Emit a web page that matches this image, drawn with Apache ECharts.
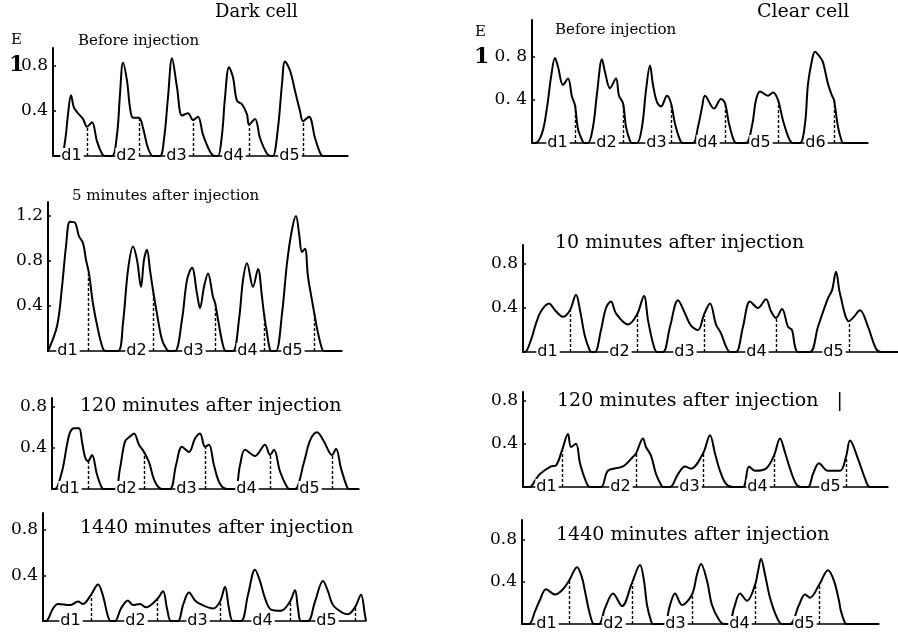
<!DOCTYPE html>
<html><head><meta charset="utf-8">
<script src="https://cdn.jsdelivr.net/npm/echarts@6/dist/echarts.min.js"></script>
<style>html,body{margin:0;padding:0;background:#fff}#c{width:898px;height:638px}</style>
</head><body><div id="c"></div>
<script>
// ---- data: [scan position, extinction E] ----
const darkBefore = [[0,0],[8,0],[12,0.13],[15,0.37],[18,0.54],[21,0.43],[25,0.38],[30,0.33],[34,0.26],[39,0.30],[44,0.13],[49,0.02],[52,0],[59,0],[64,0.19],[67,0.55],[70,0.83],[74,0.67],[77,0.43],[80,0.34],[86,0.34],[90,0.25],[95,0.07],[100,0],[107,0],[111,0.15],[115,0.52],[119,0.87],[124,0.61],[129,0.36],[135,0.38],[140,0.32],[145,0.35],[150,0.19],[157,0.04],[162,0],[165,0],[169,0.19],[172,0.52],[176,0.79],[180,0.70],[184,0.49],[189,0.46],[194,0.37],[196,0.28],[202,0.33],[207,0.16],[214,0.02],[218,0],[220,0],[225,0.25],[229,0.64],[232,0.84],[237,0.76],[242,0.58],[247,0.40],[250,0.31],[256,0.35],[262,0.16],[267,0.03],[270,0],[295,0]];
const darkBeforeCuts = [[34,0.26],[86,0.34],[140,0.32],[196,0.28],[250,0.31]];
const darkBeforeLabelX = [19,74,124,181,237];

const clearBefore = [[0,0],[3,0],[10,0.09],[15,0.33],[19,0.61],[23,0.79],[26,0.71],[31,0.54],[36,0.60],[40,0.43],[43,0.35],[46,0.13],[51,0.01],[53,0],[56,0],[61,0.15],[65,0.46],[70,0.78],[73,0.66],[78,0.51],[84,0.60],[87,0.44],[91,0.37],[94,0.15],[98,0.02],[100,0],[105,0],[110,0.15],[114,0.49],[118,0.72],[121,0.54],[125,0.38],[129,0.34],[135,0.44],[139,0.37],[143,0.18],[148,0.03],[151,0],[161,0],[166,0.15],[170,0.33],[173,0.44],[182,0.32],[189,0.41],[193,0.37],[197,0.18],[202,0.02],[205,0],[214,0],[220,0.16],[224,0.40],[228,0.48],[236,0.44],[241,0.47],[246,0.40],[251,0.21],[257,0.04],[261,0],[268,0],[273,0.18],[276,0.55],[280,0.77],[283,0.85],[288,0.80],[291,0.75],[296,0.55],[300,0.44],[302,0.40],[306,0.15],[310,0.01],[311,0],[336,0]];
const clearBeforeCuts = [[43,0.35],[91,0.37],[139,0.37],[193,0.37],[246,0.40],[302,0.40]];
const clearBeforeLabelX = [26,75,125,176,229,284];

const dark5 = [[0,0],[9,0.22],[14,0.57],[18,0.93],[22,1.15],[27,1.14],[31,1.02],[35,0.96],[38,0.81],[41,0.69],[45,0.42],[50,0.19],[55,0.02],[58,0],[70,0],[75,0.25],[80,0.72],[85,0.93],[89,0.81],[93,0.57],[96,0.81],[99,0.90],[102,0.72],[105,0.54],[109,0.33],[114,0.10],[119,0.01],[121,0],[127,0],[134,0.28],[139,0.63],[144,0.74],[149,0.51],[152,0.38],[156,0.57],[160,0.69],[165,0.48],[167,0.43],[170,0.28],[175,0.05],[178,0],[185,0],[191,0.28],[195,0.63],[199,0.78],[205,0.57],[210,0.73],[214,0.48],[216,0.33],[219,0.16],[222,0.01],[224,0],[228,0],[234,0.33],[239,0.78],[244,1.08],[248,1.20],[251,1.05],[254,0.88],[257,0.91],[260,0.66],[264,0.45],[266,0.35],[270,0.16],[274,0.02],[276,0],[294,0]];
const dark5Cuts = [[40,0.71],[105,0.54],[167,0.43],[216,0.33],[266,0.35]];
const dark5LabelX = [20,89,146,200,245];

const clear10 = [[0,0],[2,0],[8,0.11],[13,0.26],[18,0.37],[26,0.44],[32,0.38],[40,0.32],[47,0.38],[53,0.52],[57,0.38],[62,0.14],[67,0.01],[69,0],[72,0],[78,0.20],[83,0.40],[88,0.46],[93,0.35],[105,0.25],[114,0.34],[121,0.51],[125,0.29],[130,0.08],[134,0],[140,0],[147,0.23],[155,0.47],[162,0.35],[168,0.24],[175,0.20],[181,0.34],[187,0.44],[193,0.25],[198,0.17],[203,0.05],[207,0],[213,0],[220,0.23],[227,0.46],[235,0.40],[243,0.48],[248,0.37],[253,0.31],[259,0.39],[265,0.23],[269,0.20],[272,0.05],[275,0],[287,0],[295,0.23],[305,0.49],[309,0.56],[313,0.73],[317,0.53],[326,0.28],[330,0.31],[337,0.38],[345,0.23],[353,0.03],[358,0],[375,0]];
const clear10Cuts = [[47,0.37],[114,0.34],[181,0.33],[253,0.31],[326,0.28]];
const clear10LabelX = [25,97,162,234,311];

const dark120 = [[0,0],[3,0],[10,0.17],[15,0.43],[18,0.55],[22,0.59],[27,0.59],[30,0.46],[33,0.31],[36,0.27],[40,0.33],[45,0.14],[50,0.01],[53,0],[63,0],[68,0.20],[73,0.46],[78,0.51],[82,0.54],[87,0.43],[92,0.36],[97,0.26],[103,0.07],[110,0],[118,0],[124,0.23],[130,0.41],[137,0.36],[143,0.49],[148,0.54],[153,0.41],[157,0.43],[162,0.23],[168,0.05],[175,0],[183,0],[188,0.23],[193,0.38],[203,0.32],[213,0.43],[218,0.33],[222,0.38],[228,0.17],[235,0.02],[238,0],[243,0],[252,0.26],[258,0.47],[265,0.55],[272,0.46],[280,0.33],[284,0.39],[289,0.20],[295,0.02],[297,0],[307,0]];
const dark120Cuts = [[36,0.27],[92,0.36],[153,0.41],[218,0.33],[280,0.33]];
const dark120LabelX = [18,75,135,195,258];

const clear120 = [[0,0],[7,0],[12,0.06],[17,0.12],[28,0.19],[33,0.20],[39,0.34],[45,0.49],[48,0.37],[53,0.40],[57,0.22],[63,0.05],[67,0],[78,0],[85,0.15],[100,0.19],[110,0.28],[113,0.31],[120,0.45],[123,0.37],[128,0.29],[133,0.12],[138,0.02],[140,0],[147,0],[155,0.12],[162,0.19],[168,0.17],[180,0.31],[187,0.48],[192,0.31],[197,0.15],[203,0.03],[210,0],[220,0],[226,0.19],[232,0.15],[243,0.17],[251,0.29],[257,0.45],[262,0.32],[267,0.17],[273,0.03],[278,0],[285,0],[290,0.12],[296,0.22],[305,0.15],[317,0.15],[323,0.28],[327,0.43],[335,0.26],[342,0.08],[347,0],[365,0]];
const clear120Cuts = [[39,0.34],[113,0.31],[180,0.31],[251,0.29],[323,0.28]];
const clear120LabelX = [24,98,167,235,308];

const dark1440 = [[0,0],[3,0],[10,0.11],[15,0.15],[27,0.14],[35,0.17],[40,0.15],[48,0.23],[55,0.32],[60,0.22],[65,0.04],[68,0],[72,0],[78,0.11],[85,0.18],[90,0.14],[97,0.15],[103,0.12],[114,0.19],[120,0.26],[124,0.11],[128,0],[135,0],[140,0.14],[146,0.25],[152,0.18],[157,0.15],[170,0.11],[177,0.17],[182,0.30],[186,0.11],[190,0],[198,0],[205,0.23],[212,0.45],[217,0.35],[222,0.20],[228,0.10],[238,0.09],[247,0.17],[252,0.27],[255,0.11],[258,0],[265,0],[272,0.17],[280,0.35],[285,0.26],[290,0.14],[300,0.07],[305,0.06],[312,0.12],[318,0.23],[322,0.05],[323,0]];
const dark1440Cuts = [[48,0.23],[114,0.19],[177,0.17],[247,0.17],[312,0.12]];
const dark1440LabelX = [28,93,155,220,284];

const clear1440 = [[0,0],[7,0],[13,0.12],[18,0.23],[24,0.33],[33,0.28],[40,0.32],[47,0.41],[55,0.54],[60,0.44],[63,0.31],[68,0.09],[72,0],[77,0],[83,0.15],[91,0.29],[100,0.17],[110,0.39],[118,0.56],[122,0.41],[125,0.18],[129,0.03],[131,0],[142,0],[148,0.18],[153,0.29],[160,0.18],[170,0.28],[175,0.47],[179,0.57],[185,0.41],[190,0.18],[197,0.04],[202,0],[207,0],[212,0.15],[218,0.29],[225,0.22],[233,0.37],[236,0.50],[239,0.62],[243,0.47],[248,0.25],[255,0.06],[260,0],[268,0],[277,0.18],[283,0.28],[288,0.25],[297,0.37],[306,0.51],[312,0.41],[317,0.22],[319,0.12],[323,0.01],[325,0],[357,0]];
const clear1440Cuts = [[47,0.41],[110,0.39],[170,0.28],[233,0.37],[297,0.37]];
const clear1440LabelX = [25,92,154,218,283];

const labels5 = ['d1','d2','d3','d4','d5'];
const labels6 = ['d1','d2','d3','d4','d5','d6'];
const ticks2 = [0.4, 0.8];
const ticks3 = [0.4, 0.8, 1.2];

const columnTitles = ['Dark cell', 'Clear cell'];
const panelTitles = ['Before injection','Before injection','5 minutes after injection','10 minutes after injection','120 minutes after injection','120 minutes after injection   |','1440 minutes after injection','1440 minutes after injection'];

// ---- layout (pixels) ----
const panels = [
  {data: darkBefore, cuts: darkBeforeCuts, lx: darkBeforeLabelX, lab: labels5, ticks: ticks2, g:[53,48,295,108], ppu:112.5, title:[78,43,15]},
  {data: clearBefore, cuts: clearBeforeCuts, lx: clearBeforeLabelX, lab: labels6, ticks: ticks2, g:[532,20,336,123], ppu:107.5, title:[555,32,15], spaced:true},
  {data: dark5, cuts: dark5Cuts, lx: dark5LabelX, lab: labels5, ticks: ticks3, g:[48,202,294,149], ppu:112.5, title:[72,198,15]},
  {data: clear10, cuts: clear10Cuts, lx: clear10LabelX, lab: labels5, ticks: ticks2, g:[523,245,375,107], ppu:110, title:[555,245,19]},
  {data: dark120, cuts: dark120Cuts, lx: dark120LabelX, lab: labels5, ticks: ticks2, g:[52,398,307,91], ppu:103, title:[80,408,19]},
  {data: clear120, cuts: clear120Cuts, lx: clear120LabelX, lab: labels5, ticks: ticks2, g:[523,392,365,95], ppu:108, title:[557,403,19]},
  {data: dark1440, cuts: dark1440Cuts, lx: dark1440LabelX, lab: labels5, ticks: ticks2, g:[43,513,323,108], ppu:114, title:[80,530,19]},
  {data: clear1440, cuts: clear1440Cuts, lx: clear1440LabelX, lab: labels5, ticks: ticks2, g:[522,520,357,104], ppu:105.3, title:[556,537,19]}
];

const SERIF = '"DejaVu Serif", "Liberation Serif", serif';
const SANS = '"DejaVu Sans", "Liberation Sans", sans-serif';

const grid = [], xAxis = [], yAxis = [], series = [], graphic = [];
panels.forEach((p, i) => {
  const [l, t, w, h] = p.g;
  grid.push({left: l, top: t, width: w, height: h, containLabel: false, outerBoundsMode: 'none'});
  xAxis.push({type: 'value', gridIndex: i, min: 0, max: w,
    axisLine: {show: true, onZero: false, lineStyle: {color: '#000', width: 1.6}},
    axisTick: {show: false}, axisLabel: {show: false}, splitLine: {show: false}});
  yAxis.push({type: 'value', gridIndex: i, min: 0, max: h / p.ppu,
    axisLine: {show: true, lineStyle: {color: '#000', width: 2}},
    axisTick: {show: true, inside: true, length: 3, customValues: p.ticks, lineStyle: {color: '#000', width: 1.5}},
    axisLabel: {show: true, customValues: p.ticks, margin: 5, color: '#000', fontFamily: SERIF, fontSize: 17,
      formatter: v => p.spaced ? v.toFixed(1).replace('.', '. ') : v.toFixed(1)},
    splitLine: {show: false}});
  series.push({type: 'line', xAxisIndex: i, yAxisIndex: i, data: p.data, smooth: 0.35,
    symbol: 'none', lineStyle: {color: '#000', width: 2}, z: 3,
    markLine: {silent: true, symbol: 'none', label: {show: false},
      lineStyle: {color: '#000', width: 1.4, type: [3, 2]},
      data: p.cuts.map(c => [{coord: [c[0], 0]}, {coord: [c[0], c[1]]}])}});
  series.push({type: 'scatter', xAxisIndex: i, yAxisIndex: i, symbolSize: 0, z: 5,
    itemStyle: {opacity: 1, color: '#000'},
    data: p.lx.map((x, k) => [x, 0, p.lab[k]]),
    label: {show: true, position: 'inside', formatter: q => q.value[2], color: '#000', opacity: 1,
      fontFamily: SANS, fontSize: 16, backgroundColor: '#fff', padding: [0, 2, 0, 1]}});
  graphic.push({type: 'text', left: p.title[0], top: p.title[1] - Math.round(p.title[2] * 0.6),
    style: {text: panelTitles[i], font: p.title[2] + 'px ' + SERIF, fill: '#000'}});
});
graphic.push({type: 'text', left: 215, top: 3, style: {text: columnTitles[0], font: '18px ' + SERIF, fill: '#000'}});
graphic.push({type: 'text', left: 757, top: 3, style: {text: columnTitles[1], font: '19px ' + SERIF, fill: '#000'}});
graphic.push({type: 'text', left: 11, top: 33, style: {text: 'E', font: '15px ' + SERIF, fill: '#000'}});
graphic.push({type: 'text', left: 9, top: 54, style: {text: '1', font: 'bold 22px ' + SERIF, fill: '#000'}});
graphic.push({type: 'text', left: 475, top: 25, style: {text: 'E', font: '15px ' + SERIF, fill: '#000'}});
graphic.push({type: 'text', left: 474, top: 46, style: {text: '1', font: 'bold 22px ' + SERIF, fill: '#000'}});

const chart = echarts.init(document.getElementById('c'), null, {renderer: 'canvas'});
chart.setOption({animation: false, backgroundColor: '#fff', grid, xAxis, yAxis, series, graphic});
</script></body></html>
